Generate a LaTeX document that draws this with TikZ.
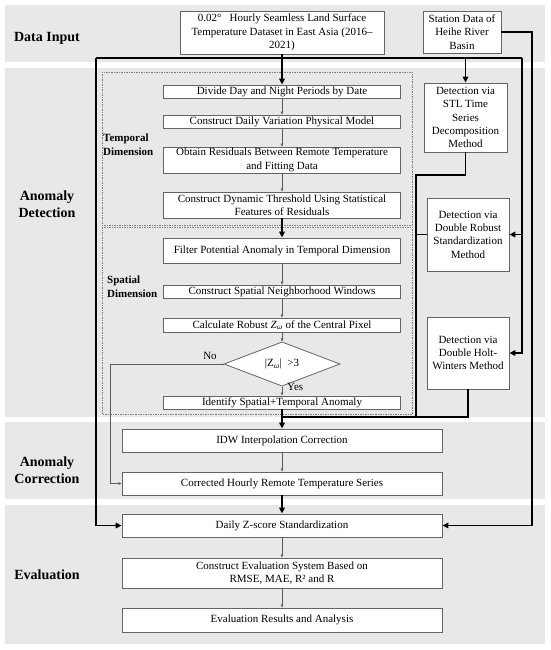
\documentclass[tikz,border=0pt]{standalone}
\usepackage{fontspec}
\setmainfont{Liberation Serif}
\usetikzlibrary{arrows.meta,shapes.geometric}
\definecolor{bandgray}{RGB}{232,232,232}
\definecolor{boxgray}{RGB}{100,100,100}
\definecolor{thingray}{RGB}{90,90,90}
\tikzset{
  box/.style={draw=boxgray, fill=white, line width=0.8pt, inner sep=0pt, align=center,
    font=\fontsize{11}{13.3}\selectfont},
  seclabel/.style={font=\fontsize{14}{17}\selectfont\bfseries, align=center, inner sep=0pt},
  dimlabel/.style={font=\fontsize{11}{14}\selectfont\bfseries, align=left, inner sep=0pt, anchor=west},
  band/.style={fill=bandgray, draw=none},
  region/.style={draw=gray, line width=0.6pt, dash pattern=on 1.5pt off 1pt},
  thk/.style={line width=1.5pt, black},
  thkarrow/.style={thk, -{Triangle[length=6pt,width=5.5pt]}},
  thinarrow/.style={line width=0.6pt, thingray, -{Triangle[length=3pt,width=2.5pt]}},
  small/.style={font=\fontsize{11}{13.3}\selectfont, inner sep=0pt}
}
\begin{document}
\begin{tikzpicture}[x=1pt,y=-1pt]
\useasboundingbox (0,0) rectangle (550,650);
% bands
\fill[band] (5,5) rectangle (545,62);
\fill[band] (5,68) rectangle (545,417);
\fill[band] (5,422) rectangle (545,499);
\fill[band] (5,505) rectangle (545,644);
% dashed regions
\draw[region] (102,72) rectangle (412,225);
\draw[region] (102,227) rectangle (412,414);
% section labels
\node[seclabel] (lin) at (47,38) {Data Input};
\node[seclabel] (ldet) at (47,204) {Anomaly\\Detection};
\node[seclabel] (lcor) at (47,470) {Anomaly\\Correction};
\node[seclabel] (leva) at (47,575) {Evaluation};
\node[dimlabel] (ltemp) at (103,145) {Temporal\\Dimension};
\node[dimlabel] (lspat) at (107,287) {Spatial\\Dimension};
% input boxes
\node[box, minimum width=204pt, minimum height=43pt] (in1) at (282,32.5)
  {0.02°\ \ \ Hourly Seamless Land Surface\\Temperature Dataset in East Asia (2016–\\2021)};
\node[box, minimum width=78pt, minimum height=42pt] (station) at (462,32)
  {Station Data of\\Heihe River\\Basin};
% temporal
\node[box, minimum width=237pt, minimum height=13pt] (divide) at (282,91.5) {Divide Day and Night Periods by Date};
\node[box, minimum width=237pt, minimum height=13pt] (dmodel) at (282,121.5) {Construct Daily Variation Physical Model};
\node[box, minimum width=237pt, minimum height=26pt] (obtain) at (282,160) {Obtain Residuals Between Remote Temperature\\and Fitting Data};
\node[box, minimum width=237pt, minimum height=26pt] (dynamic) at (282,205) {Construct Dynamic Threshold Using Statistical\\Features of Residuals};
% spatial
\node[box, minimum width=237pt, minimum height=25pt] (filter) at (282,250.5) {Filter Potential Anomaly in Temporal Dimension};
\node[box, minimum width=237pt, minimum height=13pt] (spatial) at (282,291.5) {Construct Spatial Neighborhood Windows};
\node[box, minimum width=237pt, minimum height=14pt] (calc) at (282,325) {Calculate Robust \textit{Z}\textsubscript{\textit{ω}} of the Central Pixel};
\node[box, shape=diamond, minimum width=116pt, minimum height=32pt] (dia) at (282,364) {|Z\textsubscript{\textit{ω}}|\ \ >3};
\node[box, minimum width=237pt, minimum height=13pt] (identify) at (282,402.5) {Identify Spatial+Temporal Anomaly};
% right methods
\node[box, minimum width=83pt, minimum height=69pt] (stl) at (465.5,117.5) {Detection via\\STL Time\\Series\\Decomposition\\Method};
\node[box, minimum width=82pt, minimum height=73pt] (robust) at (468,234.5) {Detection via\\Double Robust\\Standardization\\Method};
\node[box, minimum width=82pt, minimum height=72pt] (holt) at (468,353) {Detection via\\Double Holt-\\Winters Method};
% correction
\node[box, minimum width=320pt, minimum height=23pt] (idw) at (282,440.5) {IDW Interpolation Correction};
\node[box, minimum width=320pt, minimum height=23pt] (corrected) at (282,483.5) {Corrected Hourly Remote Temperature Series};
% evaluation
\node[box, minimum width=320pt, minimum height=23pt] (dailyz) at (282,525.5) {Daily Z-score Standardization};
\node[box, minimum width=320pt, minimum height=30pt] (eval) at (282,573) {Construct Evaluation System Based on\\RMSE, MAE, R² and R};
\node[box, minimum width=320pt, minimum height=24pt] (results) at (282,620) {Evaluation Results and Analysis};
% yes/no labels
\node[small] (no) at (210,356) {No};
\node[small, anchor=west] (yes) at (287,387) {Yes};
% coordinates
\coordinate (tl) at (96,58);
\coordinate (tr) at (522,58);
\coordinate (sr) at (532,525.5);
\coordinate (ml) at (416,175);
\coordinate (mg) at (416,417);
\coordinate (nl) at (110,364);
% thick connectors
\draw[thk] (tl) -- (tr);
\draw[thkarrow] (in1.south) -- (divide.north);
\draw[thkarrow] (tl) |- (dailyz.west);
\draw[thkarrow] (stl.north |- tl) -- (stl.north);
\draw[thkarrow] (tr) |- (holt.east);
\draw[thkarrow] (tr |- robust.east) -- (robust.east);
\draw[thkarrow] (station.east) -| (sr) -- (dailyz.east);
\draw[thk] (stl.south) |- (ml) -- (mg);
\draw[thk] (robust.west) -- (robust.west -| ml);
\draw[thk] (holt.south) |- (identify.south |- mg);
\draw[thkarrow] (identify.south) -- (idw.north);
\draw[thkarrow] (dynamic.south) -- (filter.north);
\draw[thkarrow] (corrected.south) -- (dailyz.north);
% thin connectors
\draw[thinarrow] (divide) -- (dmodel);
\draw[thinarrow] (dmodel) -- (obtain);
\draw[thinarrow] (obtain) -- (dynamic);
\draw[thinarrow] (filter) -- (spatial);
\draw[thinarrow] (spatial) -- (calc);
\draw[thinarrow] (calc) -- (dia);
\draw[thinarrow] (dia) -- (identify);
\draw[thinarrow] (idw) -- (corrected);
\draw[thinarrow] (dailyz) -- (eval);
\draw[thinarrow] (eval) -- (results);
\draw[thinarrow] (dia.west) -- (nl) |- (corrected.west);
\end{tikzpicture}
\end{document}
